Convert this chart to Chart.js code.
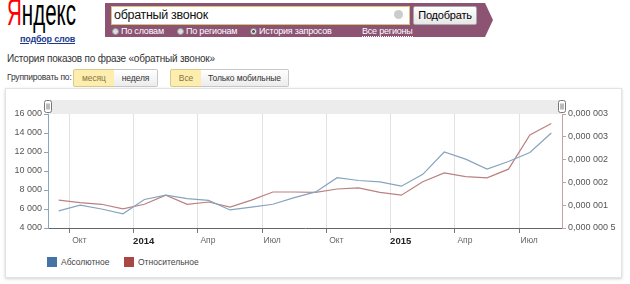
<!DOCTYPE html>
<html>
<head>
<meta charset="utf-8">
<script src="https://cdn.jsdelivr.net/npm/chart.js@4.4.0/dist/chart.umd.min.js"></script>
<style>
  body { margin: 0; width: 630px; height: 284px; background: #fff; font-family: "Liberation Sans", Arial, sans-serif; position: relative; overflow: hidden; }
  .abs { position: absolute; white-space: nowrap; }
  #logo { left: 7px; top: -8px; font-size: 36px; transform: scaleX(0.57); transform-origin: 0 0; color: #000; }
  #logo b { color: #f00; font-weight: normal; }
  #sub { left: 20px; top: 34px; font-size: 9px; font-weight: bold; color: #1c3b8f; text-decoration: underline; letter-spacing: -0.2px; }
  #band { left: 105px; top: 3px; width: 388px; height: 34px; background: #8c5373;
          clip-path: polygon(0 0, 380px 0, 388px 50%, 380px 100%, 0 100%); }
  #input { left: 111px; top: 6px; width: 297px; height: 17px; background: #fff; border: 1px solid #d8c47a; }
  #input span { position: absolute; left: 2px; top: 1px; font-size: 12.5px; letter-spacing: -0.3px; color: #111; }
  #clear { left: 394px; top: 10px; width: 9px; height: 9px; border-radius: 50%; background: #ccc; }
  #btn { left: 413px; top: 6px; width: 62px; height: 17px; border: 1px solid #aaa; border-radius: 2px;
         background: linear-gradient(#fff, #e6e6e6); font-size: 11px; text-align: center; line-height: 17px; color: #000; letter-spacing: -0.2px; }
  .radio { top: 26px; font-size: 9px; color: #fff; letter-spacing: -0.2px; }
  .radio i { display: inline-block; width: 7px; height: 7px; border-radius: 50%; background: #ddd; border: 1px solid #999;
             vertical-align: -1px; margin-right: 2px; box-sizing: border-box; }
  .radio i.on { background: radial-gradient(#555 35%, #eee 45%); }
  #allreg { left: 362px; top: 26px; font-size: 9px; color: #fff; border-bottom: 1px dotted #fff; letter-spacing: -0.2px; }
  #title { left: 7px; top: 53px; font-size: 10px; letter-spacing: -0.2px; color: #333; }
  #grp { left: 7px; top: 72px; font-size: 8.5px; letter-spacing: -0.2px; color: #333; }
  .tb { top: 69px; height: 16px; border: 1px solid #c8c8c8; font-size: 8.5px; line-height: 16px; text-align: center;
        background: linear-gradient(#fff, #ececec); color: #333; box-sizing: content-box; letter-spacing: -0.1px; }
  .tb.on { background: #fdeeb0; color: #8a7440; border-color: #d9c98b; }
  #box { left: 5px; top: 88px; width: 615px; height: 188px; border: 1px solid #e3e3e3; box-shadow: 0 1px 3px rgba(0,0,0,0.18); background: #fff; }
  #chart { position: absolute; left: 0; top: 0; }
  .leg { top: 168px; font-size: 8.5px; color: #444; }
  .leg i { display: inline-block; width: 10px; height: 10px; vertical-align: -2px; margin-right: 4px; }
</style>
</head>
<body>
<div class="abs" id="logo"><b>Я</b>ндекс</div>
<div class="abs" id="sub">подбор слов</div>
<div class="abs" id="band"></div>
<div class="abs" id="input"><span>обратный звонок</span></div>
<div class="abs" id="clear"></div>
<div class="abs" id="btn">Подобрать</div>
<div class="abs radio" style="left:112px"><i></i>По словам</div>
<div class="abs radio" style="left:177px"><i></i>По регионам</div>
<div class="abs radio" style="left:250px"><i class="on"></i>История запросов</div>
<div class="abs" id="allreg">Все регионы</div>
<div class="abs" id="title">История показов по фразе «обратный звонок»</div>
<div class="abs" id="grp">Группировать по:</div>
<div class="abs tb on" style="left:73px;width:40px;border-radius:2px 0 0 2px">месяц</div>
<div class="abs tb" style="left:114px;width:43px;border-left:none;border-radius:0 2px 2px 0">неделя</div>
<div class="abs tb on" style="left:170px;width:30px;border-radius:2px 0 0 2px">Все</div>
<div class="abs tb" style="left:201px;width:87px;border-left:none;border-radius:0 2px 2px 0">Только мобильные</div>
<div class="abs" id="box">
  <canvas id="chart" width="615" height="165"></canvas>
  <div id="legend"></div>
</div>
<script>
// months from Sep 2013 to Aug 2015
const months = ['Сен 2013', 'Окт 2013', 'Ноя 2013', 'Дек 2013', 'Янв 2014', 'Фев 2014', 'Мар 2014', 'Апр 2014',
                'Май 2014', 'Июн 2014', 'Июл 2014', 'Авг 2014', 'Сен 2014', 'Окт 2014', 'Ноя 2014', 'Дек 2014',
                'Янв 2015', 'Фев 2015', 'Мар 2015', 'Апр 2015', 'Май 2015', 'Июн 2015', 'Июл 2015', 'Авг 2015'];
const absolute = [5800, 6400, 6000, 5500, 7000, 7450, 7100, 6900, 5900, 6200, 6500, 7200,
                  7800, 9300, 9000, 8850, 8400, 9650, 12000, 11250, 10200, 11000, 11950, 14000];
const relative = [1.11e-6, 1.055e-6, 1.02e-6, 0.92e-6, 1.02e-6, 1.22e-6, 1.02e-6, 1.07e-6, 0.96e-6, 1.11e-6, 1.29e-6, 1.29e-6,
                  1.28e-6, 1.355e-6, 1.38e-6, 1.28e-6, 1.22e-6, 1.515e-6, 1.71e-6, 1.625e-6, 1.6e-6, 1.79e-6, 2.54e-6, 2.79e-6];
const xTickLabels = ['Окт', '2014', 'Апр', 'Июл', 'Окт', '2015', 'Апр', 'Июл'];
const leftTicks = [4000, 6000, 8000, 10000, 12000, 14000, 16000];
const rightTicks = [0.5e-6, 1e-6, 1.5e-6, 2e-6, 2.5e-6, 3e-6];
const rightTickLabels = ['0,000 000 5', '0,000 001', '0,000 002', '0,000 002', '0,000 003', '0,000 003'];
const seriesNames = ['Абсолютное', 'Относительное'];
const legendColors = ['#4572a7', '#aa4643'];
const lineColors = ['#86a4bd', '#bb8080'];

// quarter starts (Oct, Jan, Apr, Jul) as month index
const quarterIdx = months.map((m, i) => i).filter(i => i % 3 === 1);
const isYear = i => /^\d/.test(xTickLabels[i] || '');

const fmt = v => String(v).replace(/\B(?=(\d{3})+(?!\d))/g, ' ');

const navigator = {
  id: 'navigator',
  beforeDraw(chart) {
    const { ctx, chartArea: a } = chart;
    ctx.save();
    ctx.fillStyle = '#ececec';
    ctx.fillRect(a.left, a.top - 14, a.right - a.left, 14);
    ctx.restore();
  },
  afterDraw(chart) {
    const { ctx, chartArea: a } = chart;
    ctx.save();
    [a.left, a.right].forEach(x => {
      const hx = Math.round(x) - 3.5, hy = a.top - 13.5;
      ctx.fillStyle = '#fff';
      ctx.strokeStyle = '#777';
      ctx.lineWidth = 1;
      ctx.beginPath();
      ctx.roundRect(hx, hy, 7, 12, 2);
      ctx.fill();
      ctx.stroke();
      ctx.beginPath();
      ctx.moveTo(hx + 2.5, hy + 3); ctx.lineTo(hx + 2.5, hy + 9);
      ctx.moveTo(hx + 4.5, hy + 3); ctx.lineTo(hx + 4.5, hy + 9);
      ctx.stroke();
    });
    ctx.restore();
  }
};

const tickFont = { family: '"Liberation Sans", Arial, sans-serif', size: 9 };

new Chart(document.getElementById('chart'), {
  type: 'line',
  data: {
    datasets: [{
      label: seriesNames[0],
      data: absolute.map((v, i) => ({ x: i + 0.5, y: v })),
      borderColor: lineColors[0],
      borderWidth: 1.2,
      pointRadius: 0,
      tension: 0,
      yAxisID: 'y'
    }, {
      label: seriesNames[1],
      data: relative.map((v, i) => ({ x: i + 0.5, y: v })),
      borderColor: lineColors[1],
      borderWidth: 1.2,
      pointRadius: 0,
      tension: 0,
      yAxisID: 'y1'
    }]
  },
  options: {
    responsive: false,
    animation: false,
    layout: { padding: { top: 25, left: 0, right: 0, bottom: 0 } },
    plugins: { legend: { display: false }, tooltip: { enabled: false } },
    scales: {
      x: {
        type: 'linear',
        min: 0,
        max: months.length,
        afterBuildTicks: s => { s.ticks = quarterIdx.map(v => ({ value: v })); },
        afterFit: s => { s.height = 26; },
        grid: { color: '#e2e2e2', tickColor: '#777', tickLength: 5 },
        border: { color: '#666' },
        ticks: {
          autoSkip: false,
          maxRotation: 0,
          labelOffset: 10,
          padding: 3,
          color: ctx => (isYear(ctx.index) ? '#222' : '#666'),
          font: ctx => ({ ...tickFont, size: isYear(ctx.index) ? 9.5 : 8.5, weight: isYear(ctx.index) ? 'bold' : 'normal' }),
          callback: (v, i) => xTickLabels[i]
        }
      },
      y: {
        position: 'left',
        min: leftTicks[0],
        max: leftTicks[leftTicks.length - 1],
        afterBuildTicks: s => { s.ticks = leftTicks.map(v => ({ value: v })); },
        afterFit: s => { s.width = 42; },
        grid: { drawOnChartArea: false, tickColor: '#8aa6bd', tickLength: 4 },
        border: { color: '#8aa6bd' },
        ticks: { color: '#555', font: tickFont, padding: 2, callback: v => fmt(v) }
      },
      y1: {
        position: 'right',
        min: rightTicks[0],
        max: rightTicks[rightTicks.length - 1],
        afterBuildTicks: s => { s.ticks = rightTicks.map(v => ({ value: v })); },
        afterFit: s => { s.width = 59; },
        grid: { drawOnChartArea: false, tickColor: '#c4a2a2', tickLength: 4 },
        border: { color: '#c4a2a2' },
        ticks: { color: '#555', font: tickFont, padding: 2, callback: (v, i) => rightTickLabels[i] }
      }
    }
  },
  plugins: [navigator]
});

// legend built from the series
const legend = document.getElementById('legend');
const legendX = [41, 118];
seriesNames.forEach((name, i) => {
  const d = document.createElement('div');
  d.className = 'abs leg';
  d.style.left = legendX[i] + 'px';
  d.innerHTML = '<i style="background:' + legendColors[i] + '"></i>' + name;
  legend.appendChild(d);
});
</script>
</body>
</html>
